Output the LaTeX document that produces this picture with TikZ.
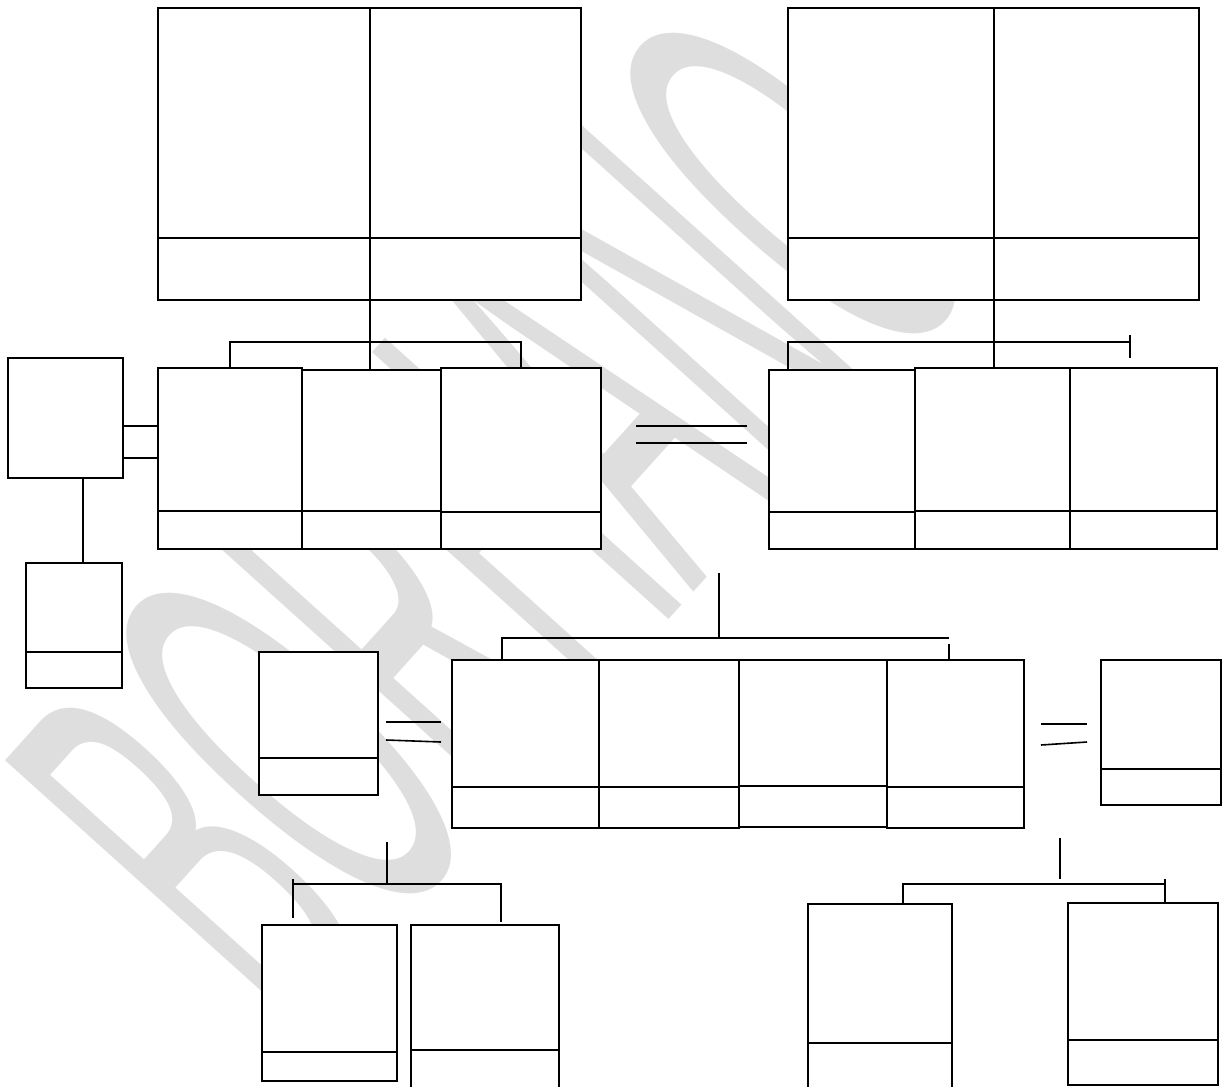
\documentclass[tikz,border=0pt]{standalone}
\usepackage{fontspec,graphicx}
\usetikzlibrary{positioning}
\newfontfamily\wmfont{Liberation Sans}
\definecolor{ink}{HTML}{000000}
\definecolor{wash}{HTML}{DEDEDE}
\newcommand{\pbox}[6]{%
\node[cell,minimum width={(#4-#2)*0.5pt},minimum height={(#5-#3)*0.5pt}] (#1) at ({(#2+#4)/2},{(#3+#5)/2}) {};
\draw[cell] (#1.west |- 0,#6) -- (#1.east |- 0,#6);}
\begin{document}
\begin{tikzpicture}[x=0.5pt,y=-0.5pt,
  cell/.style={draw=ink,fill=white,line width=1pt,inner sep=0,outer sep=0},
  link/.style={draw=ink,line width=0.8pt}]
\useasboundingbox (0,0) rectangle (1222,1087);
\clip (0,0) rectangle (1222,1087);
\node[rotate=48,inner sep=0,text=wash,font=\wmfont\fontsize{290}{290}\selectfont] (mark) at (495,515) {\scalebox{0.36}[1]{BORHANO}};
\pbox{tl1}{158}{8}{370}{300}{238}
\pbox{tl2}{370}{8}{581}{300}{238}
\pbox{tr1}{788}{8}{994}{300}{238}
\pbox{tr2}{994}{8}{1199}{300}{238}
\pbox{a1}{158}{368}{302}{549}{511}
\pbox{a2}{302}{370}{441}{549}{511}
\pbox{a3}{441}{368}{601}{549}{512}
\pbox{b1}{769}{370}{915}{549}{512}
\pbox{b2}{915}{368}{1070}{549}{511}
\pbox{b3}{1070}{368}{1217}{549}{511}
\pbox{l}{8}{358}{123}{478}{478}
\pbox{l2}{26}{563}{122}{688}{652}
\pbox{d}{259}{652}{378}{795}{758}
\pbox{c1}{452}{660}{599}{828}{787}
\pbox{c2}{599}{660}{739}{828}{787}
\pbox{c3}{739}{660}{887}{827}{786}
\pbox{c4}{887}{660}{1024}{828}{787}
\pbox{e}{1101}{660}{1221}{805}{769}
\pbox{f1}{262}{925}{397}{1081}{1052}
\pbox{f2}{411}{925}{559}{1100}{1050}
\pbox{g1}{808}{904}{952}{1100}{1043}
\pbox{g2}{1068}{903}{1218}{1085}{1040}
\draw[link] (tl1.south east) -- (tl1.south east |- a2.north);
\draw[link] (a1.north) -- ++(0,-26) -| (a3.north);
\draw[link] (tr1.south east) -- (tr1.south east |- b2.north);
\draw[link] (b1.north -| 788,0) -- (788,342) -- (1130,342);
\draw[link] (1130,335) -- (1130,358);
\draw[link] (l.east |- 0,426) -- (a1.west |- 0,426);
\draw[link] (l.east |- 0,458) -- (a1.west |- 0,458);
\draw[link] (l.south -| 83,0) -- (l2.north -| 83,0);
\draw[link] (636,426) -- (747,426);
\draw[link] (636,443) -- (747,443);
\draw[link] (719,573) -- (719,638);
\draw[link] (c1.north -| 502,0) -- (502,638) -- (949,638);
\draw[link] (949,644) -- (c4.north -| 949,0);
\draw[link] (386,722) -- (441,722);
\draw[link] (386,740) -- (441,742);
\draw[link] (1041,724) -- (1087,724);
\draw[link] (1041,745) -- (1087,742);
\draw[link] (387,842) -- (387,884);
\draw[link] (293,879) -- (293,918);
\draw[link] (293,884) -- (501,884) -- (501,922);
\draw[link] (1060,838) -- (1060,879);
\draw[link] (g1.north -| 903,0) -- (903,884) -- (1165,884);
\draw[link] (1165,879) -- (g2.north -| 1165,0);
\end{tikzpicture}
\end{document}
